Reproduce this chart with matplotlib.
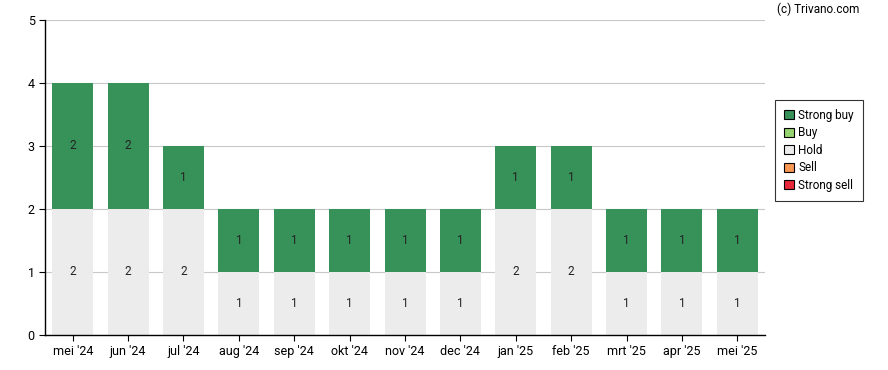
import matplotlib.pyplot as plt
import numpy as np

plt.rcParams['font.family'] = ['Roboto', 'DejaVu Sans']

months = ["mei '24", "jun '24", "jul '24", "aug '24", "sep '24", "okt '24", "nov '24",
          "dec '24", "jan '25", "feb '25", "mrt '25", "apr '25", "mei '25"]
strong_sell = [0, 0, 0, 0, 0, 0, 0, 0, 0, 0, 0, 0, 0]
sell = [0, 0, 0, 0, 0, 0, 0, 0, 0, 0, 0, 0, 0]
hold = [2, 2, 2, 1, 1, 1, 1, 1, 2, 2, 1, 1, 1]
buy = [0, 0, 0, 0, 0, 0, 0, 0, 0, 0, 0, 0, 0]
strong_buy = [2, 2, 1, 1, 1, 1, 1, 1, 1, 1, 1, 1, 1]

series = [
    ('Strong sell', strong_sell, '#e8293b'),
    ('Sell', sell, '#f79553'),
    ('Hold', hold, '#ececec'),
    ('Buy', buy, '#95d46f'),
    ('Strong buy', strong_buy, '#37925a'),
]

fig = plt.figure(figsize=(8.88, 3.7), dpi=100)
ax = fig.add_axes([0.0507, 0.0946, 0.8108, 0.8514])

x = np.arange(len(months))
bottom = np.zeros(len(months))
handles = {}
for name, vals, col in series:
    vals = np.array(vals, dtype=float)
    b = ax.bar(x, vals, 0.74, bottom=bottom, color=col, zorder=2)
    handles[name] = b
    for xi, v, b0 in zip(x, vals, bottom):
        if v > 0:
            ax.text(xi, b0 + v / 2, str(int(v)), ha='center', va='center',
                    fontsize=8.5, color='#222222', zorder=3)
    bottom += vals

ax.set_xlim(-0.5, len(months) - 0.5)
ax.set_ylim(0, 5)
ax.set_yticks(range(6))
ax.set_xticks(x)
ax.set_xticklabels(months)
ax.grid(axis='y', color='#c8c8c8', linewidth=0.8, zorder=0)
ax.tick_params(labelsize=9, length=4, color='black')
for s in ['top', 'right']:
    ax.spines[s].set_visible(False)
ax.spines['left'].set_linewidth(1)
ax.spines['bottom'].set_linewidth(1)

order = ['Strong buy', 'Buy', 'Hold', 'Sell', 'Strong sell']
leg = fig.legend([handles[n] for n in order], order, loc='upper left',
                 bbox_to_anchor=(0.873, 0.73), borderaxespad=0, fontsize=8.5,
                 frameon=True, fancybox=False, edgecolor='black',
                 handlelength=0.8, handleheight=0.8, handletextpad=0.4,
                 labelspacing=0.38, borderpad=0.75)
for h in leg.legend_handles:
    h.set_edgecolor('black')
    h.set_linewidth(0.8)
leg.get_frame().set_linewidth(0.8)

fig.text(0.968, 0.975, '(c) Trivano.com', ha='right', va='center', fontsize=8.5)

fig.savefig('out.png', dpi=100)
